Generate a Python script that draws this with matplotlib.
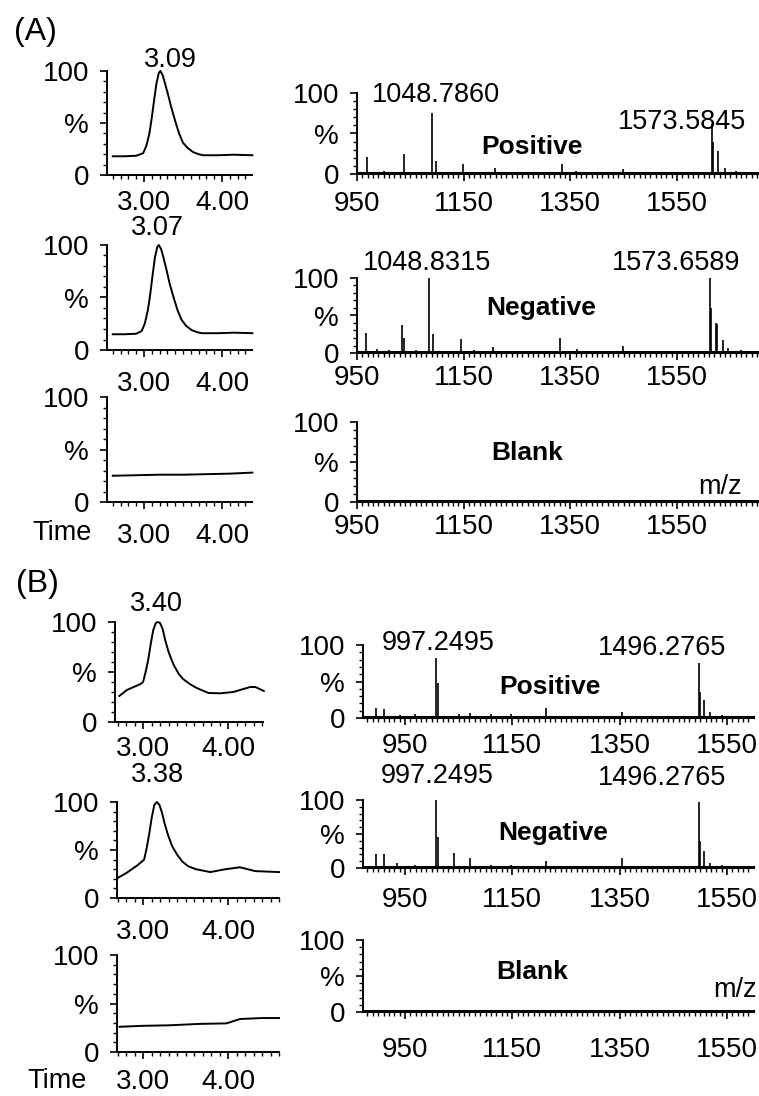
import matplotlib
matplotlib.use('Agg')
import matplotlib.pyplot as plt
from matplotlib.ticker import MultipleLocator, FixedLocator

plt.rcParams['font.family'] = ['Liberation Sans', 'DejaVu Sans']

W, H = 759, 1096

# ---- chromatograms: time (min) / relative intensity (%) ----
a_pos_t = [2.60, 2.75, 2.90, 2.99, 3.03, 3.07, 3.10, 3.13, 3.16, 3.19, 3.21, 3.24, 3.27, 3.31, 3.35, 3.40,
           3.45, 3.50, 3.56, 3.63, 3.70, 3.76, 3.95, 4.15, 4.39]
a_pos_i = [18, 18, 18.5, 21, 28, 40, 55, 72, 88, 98, 100, 96, 88, 77, 65, 52,
           40, 31, 26, 22, 20, 19, 19, 19.5, 19]
a_neg_t = [2.60, 2.75, 2.90, 2.97, 3.01, 3.05, 3.08, 3.11, 3.14, 3.17, 3.19, 3.22, 3.25, 3.29, 3.33, 3.38,
           3.43, 3.48, 3.54, 3.61, 3.68, 3.74, 3.95, 4.15, 4.39]
a_neg_i = [15, 15, 15.5, 18, 25, 38, 53, 71, 88, 98, 100, 96, 88, 76, 63, 50,
           38, 29, 23, 19, 17, 16, 16, 16.5, 16]
a_blk_t = [2.60, 2.90, 3.20, 3.50, 3.80, 4.10, 4.39]
a_blk_i = [25, 25.5, 26, 26, 26.5, 27, 28]

b_pos_t = [2.72, 2.81, 2.97, 3.00, 3.03, 3.06, 3.09, 3.12, 3.15, 3.17, 3.20, 3.23, 3.26, 3.30, 3.36, 3.42,
           3.47, 3.55, 3.63, 3.77, 3.91, 4.06, 4.26, 4.32, 4.42]
b_pos_i = [26, 32, 38, 40, 50, 62, 78, 92, 99, 100, 99, 93, 82, 70, 57, 48,
           43, 38, 34, 29, 28.7, 30, 35, 35, 31]
b_neg_t = [2.70, 2.80, 2.93, 3.01, 3.04, 3.07, 3.10, 3.13, 3.16, 3.19, 3.22, 3.25, 3.29, 3.34, 3.40,
           3.46, 3.53, 3.62, 3.79, 3.97, 4.14, 4.32, 4.60]
b_neg_i = [21, 26, 34, 40, 52, 67, 84, 97, 100, 97, 89, 78, 66, 54, 45,
           38, 33, 30, 27, 30, 32, 28, 27]
b_blk_t = [2.72, 3.00, 3.30, 3.67, 3.98, 4.14, 4.40, 4.60]
b_blk_i = [26, 27, 27.5, 29, 29.5, 34, 35, 35]

# ---- mass spectra: m/z / relative intensity (%) ----
a_pos_mz = [969, 1000, 1038, 1070, 1090.6, 1098, 1120, 1149, 1180, 1209, 1260, 1334, 1360, 1400, 1449, 1500,
            1560, 1615.6, 1617.5, 1627, 1640, 1660]
a_pos_in = [21, 4, 25, 3, 75, 16, 3, 12, 3, 7, 3, 12, 4, 3, 6, 3, 3, 62, 40, 28, 8, 4]
a_neg_mz = [967, 987.5, 1010, 1034.4, 1038, 1060, 1085, 1092.5, 1145, 1170, 1205, 1260, 1330.6, 1362.5, 1400,
            1448.8, 1500, 1560, 1611.9, 1613.8, 1623, 1625, 1636, 1645.6, 1670]
a_neg_in = [27, 5, 4, 37, 20, 4, 100, 25, 19, 4, 8, 3, 20, 6, 3, 10, 3, 3, 100, 60, 40, 38, 17, 7, 4]
b_pos_mz = [895, 911, 940, 968, 1007, 1012, 1051, 1071, 1110, 1148, 1180, 1212, 1260, 1300, 1355, 1420,
            1497, 1499, 1508, 1519, 1540]
b_pos_in = [14, 12, 4, 5, 82, 48, 6, 7, 5, 5, 3, 14, 3, 3, 8, 3, 75, 36, 25, 8, 4]
b_neg_mz = [895, 911, 935, 968, 1007, 1012, 1042, 1071, 1110, 1148, 1212, 1260, 1300, 1355, 1420,
            1497, 1499, 1508, 1519, 1540]
b_neg_in = [20, 20, 8, 5, 100, 45, 22, 15, 5, 4, 10, 3, 3, 15, 3, 97, 40, 25, 8, 4]

fig = plt.figure(figsize=(W / 100, H / 100), dpi=100)


def box(l, t, r, b):
    return [l / W, 1 - b / H, (r - l) / W, (b - t) / H]


def put(x, y, s, size=19.5, weight='normal', ha='center'):
    fig.text(x / W, 1 - y / H, s, ha=ha, va='center', fontsize=size, fontweight=weight)


def style(ax, xpad):
    for side in ['top', 'right']:
        ax.spines[side].set_visible(False)
    for side in ['left', 'bottom']:
        ax.spines[side].set_linewidth(1.4)
    ax.set_ylim(0, 100)
    ax.yaxis.set_major_locator(FixedLocator([0, 50, 100]))
    ax.set_yticklabels(['0', '%', '100'])
    ax.yaxis.set_minor_locator(MultipleLocator(10))
    ax.tick_params(which='major', direction='out', length=5, width=1.2, labelsize=20, pad=8)
    ax.tick_params(which='minor', direction='out', length=3, width=1.0)
    ax.tick_params(axis='x', pad=xpad)


def chrom(rect, xlim, t, i, xpad):
    ax = fig.add_axes(box(*rect))
    ax.plot(t, i, color='black', lw=1.4, clip_on=False)
    style(ax, xpad)
    ax.set_xlim(*xlim)
    ax.xaxis.set_major_locator(FixedLocator([3.0, 4.0]))
    ax.set_xticklabels(['3.00', '4.00'])
    ax.xaxis.set_minor_locator(MultipleLocator(0.1))
    return ax


def spec(rect, xlim, mz, inten, ticks, xpad):
    ax = fig.add_axes(box(*rect))
    ax.vlines(mz, 0, inten, color='black', lw=1.2, clip_on=False)
    ax.axhline(0.8, color='black', lw=2.2, clip_on=False)
    style(ax, xpad)
    ax.set_xlim(*xlim)
    ax.xaxis.set_major_locator(FixedLocator(ticks))
    ax.set_xticklabels([str(v) for v in ticks])
    ax.xaxis.set_minor_locator(MultipleLocator(10))
    return ax


# ---- panel (A) ----
a_tlim = (2.526, 4.385)
chrom((107, 71, 252, 175), a_tlim, a_pos_t, a_pos_i, 6)
chrom((107, 245, 252, 350), a_tlim, a_neg_t, a_neg_i, 10)
chrom((107, 397, 252, 502), a_tlim, a_blk_t, a_blk_i, 10)

a_mzlim = (950, 1703.8)
a_ticks = [950, 1150, 1350, 1550]
spec((357, 93, 759, 174), a_mzlim, a_pos_mz, a_pos_in, a_ticks, 7)
spec((357, 278, 759, 353), a_mzlim, a_neg_mz, a_neg_in, a_ticks, 3.5)
spec((357, 422, 759, 502), a_mzlim, [], [], a_ticks, 4)

put(35, 32, '(A)', size=23)
put(170, 60, '3.09')
put(157, 228, '3.07')
put(62, 533, 'Time')
put(436, 95, '1048.7860')
put(682, 122, '1573.5845')
put(532, 147, 'Positive', size=19, weight='bold')
put(427, 263, '1048.8315')
put(676, 263, '1573.6589')
put(541, 308, 'Negative', size=19, weight='bold')
put(527, 453, 'Blank', size=19, weight='bold')
put(720, 487, 'm/z')

# ---- panel (B) ----
chrom((115, 622, 263, 722), (2.67, 4.41), b_pos_t, b_pos_i, 5)
chrom((117, 802, 279, 898), (2.69, 4.60), b_neg_t, b_neg_i, 10)
chrom((117, 955, 279, 1052), (2.69, 4.60), b_blk_t, b_blk_i, 7.5)

b_mzlim = (871.7, 1598.4)
b_ticks = [950, 1150, 1350, 1550]
spec((363, 645, 753, 718), b_mzlim, b_pos_mz, b_pos_in, b_ticks, 6)
spec((363, 800, 753, 868), b_mzlim, b_neg_mz, b_neg_in, b_ticks, 9)
spec((363, 940, 753, 1012), b_mzlim, [], [], b_ticks, 13)

put(37, 584, '(B)', size=23)
put(156, 604, '3.40')
put(157, 775, '3.38')
put(57, 1081, 'Time')
put(438, 643, '997.2495')
put(662, 648, '1496.2765')
put(550, 687, 'Positive', size=19, weight='bold')
put(437, 776, '997.2495')
put(662, 778, '1496.2765')
put(553, 833, 'Negative', size=19, weight='bold')
put(532, 972, 'Blank', size=19, weight='bold')
put(735, 990, 'm/z')

fig.savefig('out.png', dpi=100)
